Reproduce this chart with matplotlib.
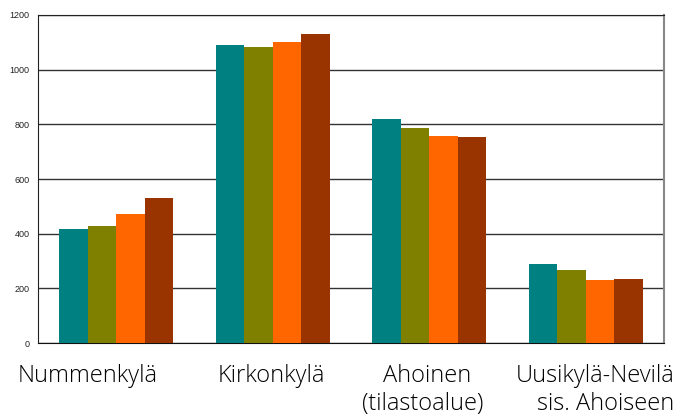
import matplotlib
matplotlib.use("Agg")
from matplotlib import pyplot as plt
from matplotlib import transforms
import numpy as np

categories = ["Nummenkylä", "Kirkonkylä", "Ahoinen\n(tilastoalue)", "Uusikylä-Nevilä\nsis. Ahoiseen"]
series_1 = [417, 1090, 820, 289]
series_2 = [428, 1083, 787, 267]
series_3 = [472, 1101, 757, 230]
series_4 = [530, 1130, 754, 234]
colors = ["#008080", "#808000", "#ff6600", "#993300"]
y_ticks = [0, 200, 400, 600, 800, 1000, 1200]

# label line positions (data x) as laid out in the original
label_lines = [
    ("Nummenkylä", -0.184, 0),
    ("Kirkonkylä", 0.989, 0),
    ("Ahoinen", 1.986, 0),
    ("(tilastoalue)", 1.960, 1),
    ("Uusikylä-Nevilä", 3.059, 0),
    ("sis. Ahoiseen", 3.129, 1),
]

fig = plt.figure(figsize=(6.84, 4.19), dpi=100)
ax = fig.add_axes([38 / 684, 1 - 343 / 419, 626 / 684, 328 / 419])

x = np.arange(len(categories))
width = 0.73 / 4
for i, (vals, c) in enumerate(zip([series_1, series_2, series_3, series_4], colors)):
    ax.bar(x + (i - 1.5) * width, vals, width, color=c, zorder=3)

ax.set_xlim(-0.5, len(categories) - 0.5)
ax.set_ylim(0, 1200)
ax.set_yticks(y_ticks)
ax.set_yticklabels([str(t) for t in y_ticks], fontsize=6.5, family="Liberation Sans", color="#222222")
ax.yaxis.grid(True, color="#333333", linewidth=1)
ax.set_axisbelow(True)
ax.tick_params(axis="y", length=0, pad=6)
ax.set_xticks([])

trans = transforms.blended_transform_factory(ax.transData, ax.transAxes)
for txt, xpos, line in label_lines:
    ypos = -39 / 328 if line == 0 else -67 / 328
    ax.text(xpos, ypos, txt, transform=trans, ha="center", va="baseline",
            fontsize=17, family="Open Sans", fontweight="light", color="#000000")

ax.spines["left"].set_color("#222222")
ax.spines["bottom"].set_color("#111111")
ax.spines["top"].set_color("#222222")
ax.spines["right"].set_color("#888888")
ax.spines["right"].set_linewidth(1.5)

fig.savefig("out.png", dpi=100)
